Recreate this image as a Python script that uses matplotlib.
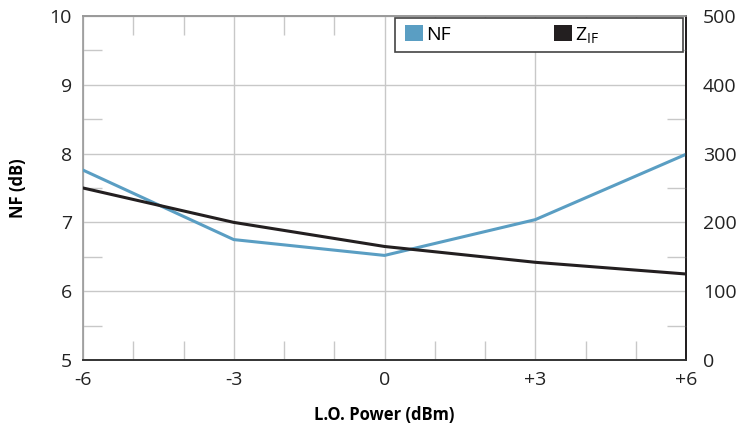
import matplotlib
matplotlib.use("Agg")
import matplotlib.pyplot as plt
from matplotlib.patches import Patch, Rectangle

plt.rcParams['font.family'] = ['Open Sans', 'DejaVu Sans']

lo_power = [-6, -3, 0, 3, 6]
x_labels = ['-6', '-3', '0', '+3', '+6']
nf_db = [7.76, 6.75, 6.52, 7.04, 7.99]
z_if = [250, 200, 165, 142, 125]

blue = '#5a9ec3'
black = '#231f20'
grid = '#c8c8c8'

fig = plt.figure(figsize=(7.36, 4.30), dpi=100)
ax = fig.add_axes([0.1128, 0.1628, 0.8193, 0.8])
ax2 = ax.twinx()

ax.set_xlim(-6, 6)
ax.set_ylim(5, 10)
ax2.set_ylim(0, 500)

ax.set_xticks(lo_power)
ax.set_xticklabels(x_labels)
ax.set_xticks(range(-6, 7), minor=True)
ax.set_yticks(range(5, 11))
ax.set_yticks([5.5, 6.5, 7.5, 8.5, 9.5], minor=True)
ax2.set_yticks(range(0, 501, 100))
ax2.set_yticks(range(50, 500, 100), minor=True)

ax.grid(True, which='major', color=grid, linewidth=1)
ax.tick_params(which='major', length=0, labelsize=14, colors='#222222', pad=8)
ax.tick_params(which='minor', direction='in', length=14, width=1, color=grid,
               top=True, bottom=True, left=True)
ax2.tick_params(which='major', length=0, labelsize=14, colors='#222222', pad=12)
ax2.tick_params(which='minor', direction='in', length=14, width=1, color=grid)

ax.plot(lo_power, nf_db, color=blue, linewidth=2.2, zorder=3)
ax2.plot(lo_power, z_if, color=black, linewidth=2.2, zorder=3)

for s in ['left', 'top']:
    ax.spines[s].set_color('#999999')
    ax2.spines[s].set_color('#999999')
ax.spines['bottom'].set_color('#333333')
ax2.spines['bottom'].set_color('#333333')
ax2.spines['right'].set_color(black)
ax2.spines['left'].set_visible(False)
for s in ax.spines.values():
    s.set_linewidth(1.2)
for s in ax2.spines.values():
    s.set_linewidth(1.2)

ax.set_ylabel('NF (dB)', fontsize=12, fontweight='bold', labelpad=16)
ax.set_xlabel('L.O. Power (dBm)', fontsize=12, fontweight='bold', labelpad=12)

# legend box drawn separately so it can be wider than its entries
box = Rectangle((0.517, 0.895), 0.478, 0.099, transform=ax2.transAxes,
                facecolor='white', edgecolor='#444444', linewidth=1.2, zorder=5)
ax2.add_patch(box)

handles = [Patch(facecolor=blue, edgecolor='none', label='NF'),
           Patch(facecolor=black, edgecolor='none', label='$\\mathregular{Z_{IF}}$')]
leg = ax2.legend(handles=handles, loc='upper left',
                 bbox_to_anchor=(0.534, 0.974),
                 ncol=2, fontsize=14, frameon=False,
                 handlelength=0.9, handleheight=0.9, handletextpad=0.2,
                 columnspacing=5.3, borderpad=0, borderaxespad=0)
leg.set_zorder(6)

fig.savefig('out.png', dpi=100)
